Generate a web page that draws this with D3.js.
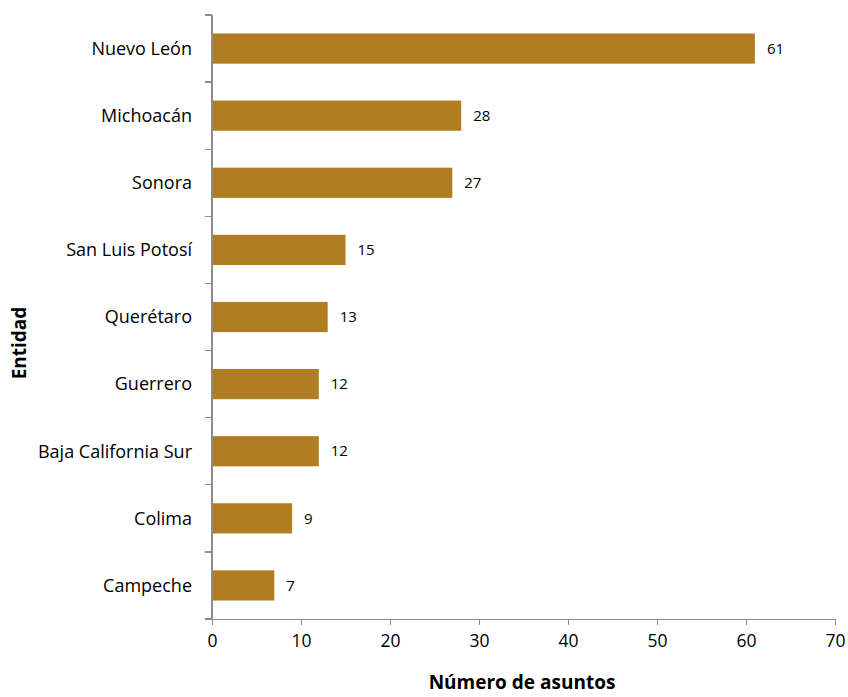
<!DOCTYPE html>
<html>
<meta charset="utf-8">
<style>
body { margin: 0; background: #fff; }
svg { display: block; }
text { font-family: "Open Sans", sans-serif; fill: #000; }
.axis path, .axis line { stroke: #8c8c8c; stroke-width: 1.3; shape-rendering: crispEdges; }
</style>
<body>
<script src="https://d3js.org/d3.v7.min.js"></script>
<script>
var entidades = ["Nuevo León", "Michoacán", "Sonora", "San Luis Potosí", "Querétaro",
                 "Guerrero", "Baja California Sur", "Colima", "Campeche"];
var asuntos = [61, 28, 27, 15, 13, 12, 12, 9, 7];
var xTicks = [0, 10, 20, 30, 40, 50, 60, 70];

var width = 848, height = 697;
var margin = {top: 15, right: 13, bottom: 78, left: 212};

var svg = d3.select("body").append("svg")
    .attr("width", width)
    .attr("height", height);

var x = d3.scaleLinear().domain([0, 70]).range([margin.left, width - margin.right]);
var y = d3.scaleBand().domain(entidades).range([margin.top, height - margin.bottom])
    .paddingInner(0.55).paddingOuter(0.275);

var yb = d3.scaleBand().domain(entidades).range([margin.top, height - margin.bottom]);

// bars
svg.selectAll(".bar")
    .data(entidades)
    .enter().append("rect")
    .attr("class", "bar")
    .attr("x", x(0))
    .attr("y", function(d) { return y(d); })
    .attr("width", function(d, i) { return x(asuntos[i]) - x(0); })
    .attr("height", y.bandwidth())
    .attr("fill", "#b07d22");

// value labels
svg.selectAll(".val")
    .data(entidades)
    .enter().append("text")
    .attr("class", "val")
    .attr("x", function(d, i) { return x(asuntos[i]) + 12; })
    .attr("y", function(d) { return y(d) + y.bandwidth() / 2; })
    .attr("dy", "0.35em")
    .attr("font-size", "15px")
    .text(function(d, i) { return asuntos[i]; });

// x axis
var xAxis = svg.append("g")
    .attr("class", "axis")
    .attr("transform", "translate(0," + (height - margin.bottom) + ")")
    .call(d3.axisBottom(x).tickValues(xTicks).tickSize(6).tickSizeOuter(0).tickPadding(10));
xAxis.selectAll("text").attr("font-size", "17.5px");

// y axis: ticks at band boundaries
var yAxis = svg.append("g")
    .attr("class", "axis")
    .attr("transform", "translate(" + margin.left + ",0)");
yAxis.append("line")
    .attr("x1", 0).attr("x2", 0)
    .attr("y1", margin.top).attr("y2", height - margin.bottom);
var bounds = entidades.map(function(d) { return yb(d); }).concat([height - margin.bottom]);
yAxis.selectAll(".tk")
    .data(bounds)
    .enter().append("line")
    .attr("x1", -7).attr("x2", 0)
    .attr("y1", function(d) { return d; })
    .attr("y2", function(d) { return d; });
yAxis.selectAll(".lbl")
    .data(entidades)
    .enter().append("text")
    .attr("x", -20)
    .attr("y", function(d) { return y(d) + y.bandwidth() / 2; })
    .attr("dy", "0.35em")
    .attr("text-anchor", "end")
    .attr("font-size", "18px")
    .text(function(d) { return d; });

// axis titles
svg.append("text")
    .attr("x", 522)
    .attr("y", 689)
    .attr("text-anchor", "middle")
    .attr("font-size", "19px")
    .attr("font-weight", "bold")
    .text("Número de asuntos");

svg.append("text")
    .attr("transform", "translate(26," + 343 + ") rotate(-90)")
    .attr("text-anchor", "middle")
    .attr("font-size", "19px")
    .attr("font-weight", "bold")
    .text("Entidad");
</script>
</body>
</html>
